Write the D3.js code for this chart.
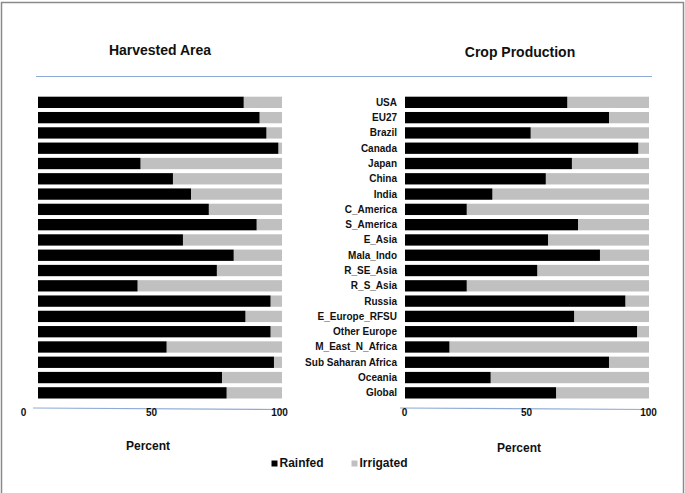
<!DOCTYPE html>
<html>
<head>
<meta charset="utf-8">
<script src="https://cdn.jsdelivr.net/npm/d3@7"></script>
<style>
  body { margin: 0; background: #fff; }
  svg { display: block; font-family: "Liberation Sans", Arial, sans-serif; }
</style>
</head>
<body>
<svg id="chart" width="685" height="493"></svg>
<script>
// ---- data ----
const categories = ["USA","EU27","Brazil","Canada","Japan","China","India","C_America","S_America","E_Asia",
  "Mala_Indo","R_SE_Asia","R_S_Asia","Russia","E_Europe_RFSU","Other Europe","M_East_N_Africa",
  "Sub Saharan Africa","Oceania","Global"];
const harvestedRainfed = [84.3,90.8,93.6,98.5,42.0,55.3,62.7,70.0,89.6,59.4,
  80.2,73.3,40.8,95.3,85.0,95.3,52.7,96.7,75.4,77.3];
const productionRainfed = [66.5,83.6,51.5,95.6,68.4,57.7,35.8,25.3,70.9,58.6,
  79.9,54.2,25.3,90.3,69.3,95.1,18.2,83.6,35.1,61.9];
const tickValues = [0, 50, 100];
const seriesNames = ["Rainfed", "Irrigated"];
const titles = ["Harvested Area", "Crop Production"];
const axisTitle = "Percent";

const colors = { Rainfed: "#000000", Irrigated: "#c0c0c0" };
const lineColor = "#8eaad6";

const svg = d3.select("#chart");

// frame
svg.append("path").attr("d", "M1.5,493 L1.5,2.5 L683.5,2.5 L683.5,493")
  .attr("fill", "none").attr("stroke", "#8a8a8a").attr("stroke-width", 1.5);

// top separator line
svg.append("line").attr("x1", 36).attr("x2", 652).attr("y1", 76.5).attr("y2", 76.5)
  .attr("stroke", lineColor).attr("stroke-width", 1.2);

const y = d3.scaleBand().domain(categories).range([94.7, 400.5]).paddingInner(0.26).paddingOuter(0.13);

const panels = [
  { title: titles[0], values: harvestedRainfed, x: d3.scaleLinear().domain([0,100]).range([38, 282]),
    axisX: d3.scaleLinear().domain([0,100]).range([23, 279]), titleX: 160, titleY: 55,
    axisLine: [33, 285], pctX: 148, pctY: 450, labels: false },
  { title: titles[1], values: productionRainfed, x: d3.scaleLinear().domain([0,100]).range([405, 649]),
    axisX: d3.scaleLinear().domain([0,100]).range([404, 648]), titleX: 520, titleY: 57,
    axisLine: [400, 651], pctX: 519, pctY: 452, labels: true }
];

panels.forEach(p => {
  const g = svg.append("g");
  g.append("text").attr("x", p.titleX).attr("y", p.titleY).attr("text-anchor", "middle")
    .attr("font-weight", "bold").attr("font-size", 14).attr("fill", "#111").text(p.title);

  const rows = categories.map((c, i) => ({ cat: c, rain: p.values[i], irr: 100 - p.values[i] }));
  // irrigated (full bar background, stacked after rainfed)
  g.selectAll("rect.irr").data(rows).join("rect").attr("class", "irr")
    .attr("x", d => p.x(d.rain)).attr("width", d => p.x(100) - p.x(d.rain))
    .attr("y", d => y(d.cat)).attr("height", y.bandwidth()).attr("fill", colors.Irrigated);
  g.selectAll("rect.rain").data(rows).join("rect").attr("class", "rain")
    .attr("x", p.x(0)).attr("width", d => p.x(d.rain) - p.x(0))
    .attr("y", d => y(d.cat)).attr("height", y.bandwidth()).attr("fill", colors.Rainfed);

  if (p.labels) {
    g.selectAll("text.cat").data(categories).join("text").attr("class", "cat")
      .attr("x", 397).attr("y", d => y(d) + y.bandwidth() / 2).attr("dy", "0.35em")
      .attr("text-anchor", "end").attr("font-weight", "bold").attr("font-size", 10)
      .attr("fill", "#111").text(d => d);
  }

  // axis line
  g.append("line").attr("x1", p.axisLine[0]).attr("x2", p.axisLine[1])
    .attr("y1", 408).attr("y2", 409.5).attr("stroke", lineColor).attr("stroke-width", 1.2);

  const ax = g.append("g").attr("transform", "translate(0,408)")
    .call(d3.axisBottom(p.axisX).tickValues(tickValues).tickSize(0).tickPadding(1).tickFormat(d3.format("d")));
  ax.select(".domain").remove();
  ax.selectAll("text").attr("font-size", 10).attr("font-weight", "bold").attr("fill", "#111")
    .attr("font-family", "'Liberation Sans Narrow', 'Liberation Sans', Arial, sans-serif");

  g.append("text").attr("x", p.pctX).attr("y", p.pctY).attr("text-anchor", "middle")
    .attr("font-weight", "bold").attr("font-size", 12).attr("fill", "#111").text(axisTitle);
});

// legend
const legendX = [271.5, 351.5];
const lg = svg.append("g");
seriesNames.forEach((s, i) => {
  lg.append("rect").attr("x", legendX[i]).attr("y", 460.5).attr("width", 6).attr("height", 6)
    .attr("fill", colors[s]);
  lg.append("text").attr("x", legendX[i] + 8).attr("y", 466.5).attr("font-weight", "bold")
    .attr("font-size", 12).attr("fill", "#111").text(s);
});
</script>
</body>
</html>
